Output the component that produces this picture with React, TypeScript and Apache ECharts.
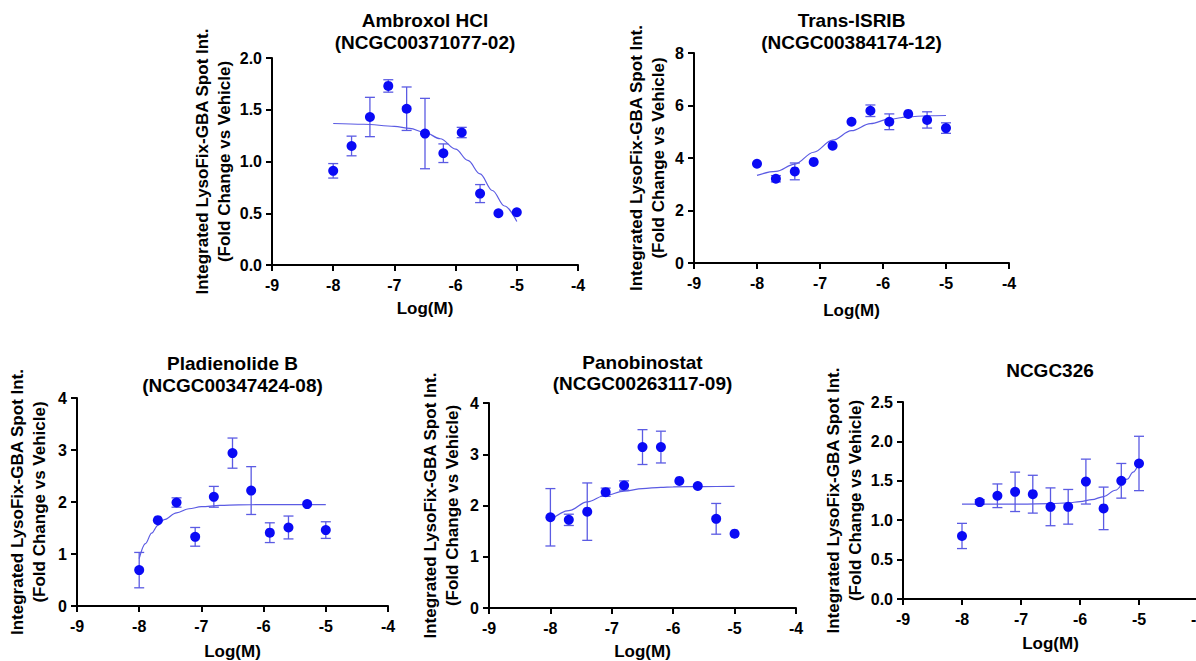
import React, { useEffect, useRef } from "react";
import * as echarts from "echarts";

// ---- Data ----
const DOSES = [-8, -7.7, -7.4, -7.1, -6.8, -6.5, -6.2, -5.9, -5.6, -5.3, -5.0];

const TITLES_1 = ["Ambroxol HCl", "(NCGC00371077-02)"];
const MEANS_1 = [0.91, 1.15, 1.43, 1.73, 1.51, 1.27, 1.08, 1.28, 0.69, 0.5, 0.51];
const ERRS_1 = [0.07, 0.095, 0.19, 0.06, 0.21, 0.34, 0.09, 0.05, 0.087, 0, 0];
const FIT_X_1 = [-8, -7.5, -7, -6.75, -6.5, -6.25, -6, -5.8, -5.6, -5.4, -5.2, -5];
const FIT_Y_1 = [1.367, 1.36, 1.34, 1.32, 1.28, 1.22, 1.12, 1.01, 0.88, 0.72, 0.57, 0.42];
const YTICKS_1 = [0, 2, 0.5];

const TITLES_2 = ["Trans-ISRIB", "(NCGC00384174-12)"];
const MEANS_2 = [3.78, 3.21, 3.49, 3.85, 4.47, 5.38, 5.8, 5.38, 5.68, 5.45, 5.14];
const ERRS_2 = [0, 0.12, 0.32, 0, 0, 0, 0.22, 0.3, 0, 0.31, 0.2];
const FIT_X_2 = [-8, -7.7, -7.4, -7.1, -6.8, -6.5, -6.2, -5.9, -5.6, -5.3, -5];
const FIT_Y_2 = [3.34, 3.49, 3.77, 4.22, 4.68, 5.04, 5.31, 5.48, 5.57, 5.61, 5.62];
const YTICKS_2 = [0, 8, 2];

const TITLES_3 = ["Pladienolide B", "(NCGC00347424-08)"];
const MEANS_3 = [0.69, 1.65, 1.99, 1.33, 2.1, 2.94, 2.22, 1.41, 1.51, 1.96, 1.46];
const ERRS_3 = [0.34, 0, 0.09, 0.18, 0.2, 0.29, 0.46, 0.19, 0.22, 0, 0.16];
const FIT_X_3 = [-8, -7.9, -7.8, -7.7, -7.6, -7.4, -7.2, -7, -6.7, -6.4, -6, -5.5, -5];
const FIT_Y_3 = [0.91, 1.2, 1.4, 1.55, 1.66, 1.79, 1.87, 1.91, 1.935, 1.945, 1.95, 1.95, 1.95];
const YTICKS_3 = [0, 4, 1];

const TITLES_4 = ["Panobinostat", "(NCGC00263117-09)"];
const MEANS_4 = [1.77, 1.72, 1.88, 2.26, 2.39, 3.14, 3.14, 2.48, 2.38, 1.74, 1.45];
const ERRS_4 = [0.56, 0.11, 0.56, 0.08, 0.09, 0.34, 0.31, 0, 0, 0.3, 0];
const FIT_X_4 = [-8, -7.7, -7.4, -7.1, -6.8, -6.5, -6.2, -6, -5.5, -5];
const FIT_Y_4 = [1.71, 1.9, 2.07, 2.2, 2.28, 2.33, 2.355, 2.365, 2.37, 2.375];
const YTICKS_4 = [0, 4, 1];

const TITLES_5 = ["NCGC326"];
const MEANS_5 = [0.8, 1.23, 1.31, 1.36, 1.33, 1.17, 1.17, 1.49, 1.15, 1.5, 1.72];
const ERRS_5 = [0.16, 0.03, 0.15, 0.25, 0.24, 0.24, 0.22, 0.285, 0.27, 0.22, 0.345];
const FIT_X_5 = [-8, -7.5, -7, -6.5, -6.2, -6, -5.8, -5.6, -5.4, -5.2, -5.1, -5];
const FIT_Y_5 = [1.205, 1.205, 1.205, 1.21, 1.22, 1.235, 1.26, 1.3, 1.38, 1.52, 1.61, 1.73];
const YTICKS_5 = [0, 2.5, 0.5];

const XTICKS = [-9, -4, 1];
const X_NAME = "Log(M)";
const Y_NAME = "Integrated LysoFix-GBA Spot Int.\n(Fold Change vs Vehicle)";

// ---- Layout (pixels) ----
const PANELS = [
  { titles: TITLES_1, means: MEANS_1, errs: ERRS_1, fx: FIT_X_1, fy: FIT_Y_1, yt: YTICKS_1, dec: 1,
    grid: { left: 272, top: 58, width: 306, height: 207 }, cx: 425, titleY: [20, 42.5], yGap: 32, xGap: 33 },
  { titles: TITLES_2, means: MEANS_2, errs: ERRS_2, fx: FIT_X_2, fy: FIT_Y_2, yt: YTICKS_2, dec: 0,
    grid: { left: 694, top: 53, width: 315, height: 210 }, cx: 851.5, titleY: [20.5, 42], yGap: 24, xGap: 37 },
  { titles: TITLES_3, means: MEANS_3, errs: ERRS_3, fx: FIT_X_3, fy: FIT_Y_3, yt: YTICKS_3, dec: 0,
    grid: { left: 77, top: 398, width: 311, height: 208 }, cx: 232.5, titleY: [363, 385], yGap: 26, xGap: 35 },
  { titles: TITLES_4, means: MEANS_4, errs: ERRS_4, fx: FIT_X_4, fy: FIT_Y_4, yt: YTICKS_4, dec: 0,
    grid: { left: 489, top: 403, width: 307, height: 205 }, cx: 642.5, titleY: [362, 383.5], yGap: 25, xGap: 33.5 },
  { titles: TITLES_5, means: MEANS_5, errs: ERRS_5, fx: FIT_X_5, fy: FIT_Y_5, yt: YTICKS_5, dec: 1,
    grid: { left: 903, top: 402, width: 295, height: 197 }, cx: 1050, titleY: [370], yGap: 30, xGap: 34 },
];

const FONT = "'Liberation Sans', Arial, Helvetica, sans-serif";
const MARKER = "#0a0af5";
const THIN = "#5b5be3";

function buildOption() {
  const grids: any[] = [];
  const xAxes: any[] = [];
  const yAxes: any[] = [];
  const series: any[] = [];
  const graphics: any[] = [];

  PANELS.forEach((p, i) => {
    grids.push({ ...p.grid, containLabel: false, outerBoundsMode: "none" });
    xAxes.push({
      type: "value", gridIndex: i, min: XTICKS[0], max: XTICKS[1], interval: XTICKS[2],
      name: X_NAME, nameLocation: "middle", nameGap: p.xGap,
      nameTextStyle: { color: "#000", fontFamily: FONT, fontWeight: "bold", fontSize: 17, lineHeight: 20 },
      axisLine: { onZero: false, lineStyle: { color: "#000", width: 2 } },
      axisTick: { length: 6, lineStyle: { color: "#000", width: 2 } },
      axisLabel: { color: "#000", fontFamily: FONT, fontWeight: "bold", fontSize: 16, margin: 12 },
      splitLine: { show: false },
    });
    yAxes.push({
      type: "value", gridIndex: i, min: p.yt[0], max: p.yt[1], interval: p.yt[2],
      name: Y_NAME, nameLocation: "middle", nameGap: p.yGap,
      nameTextStyle: { color: "#000", fontFamily: FONT, fontWeight: "bold", fontSize: 17, lineHeight: 22.5 },
      axisLine: { show: true, onZero: false, lineStyle: { color: "#000", width: 2 } },
      axisTick: { show: true, length: 6, lineStyle: { color: "#000", width: 2 } },
      axisLabel: {
        color: "#000", fontFamily: FONT, fontWeight: "bold", fontSize: 16, margin: 10,
        formatter: (v: number) => v.toFixed(p.dec),
      },
      splitLine: { show: false },
    });

    // fitted curve
    series.push({
      type: "line", xAxisIndex: i, yAxisIndex: i, smooth: 0.35, smoothMonotone: "x",
      showSymbol: false, symbol: "none", silent: true, z: 2,
      lineStyle: { color: THIN, width: 1.2 },
      data: p.fx.map((x, k) => [x, p.fy[k]]),
    });
    // error bars
    series.push({
      type: "custom", xAxisIndex: i, yAxisIndex: i, z: 3, silent: true,
      encode: { x: 0, y: [1, 2] },
      data: DOSES.map((x, k) => [x, p.means[k] - p.errs[k], p.means[k] + p.errs[k]]),
      renderItem: (params: any, api: any) => {
        const x = api.value(0);
        const lo = api.value(1);
        const hi = api.value(2);
        if (hi - lo < 1e-6) return { type: "group", children: [] };
        const a = api.coord([x, hi]);
        const b = api.coord([x, lo]);
        const w = 5;
        const style = { stroke: THIN, lineWidth: 1.3 };
        return {
          type: "group",
          children: [
            { type: "line", shape: { x1: a[0], y1: a[1], x2: b[0], y2: b[1] }, style },
            { type: "line", shape: { x1: a[0] - w, y1: a[1], x2: a[0] + w, y2: a[1] }, style },
            { type: "line", shape: { x1: b[0] - w, y1: b[1], x2: b[0] + w, y2: b[1] }, style },
          ],
        };
      },
    });
    // means
    series.push({
      type: "scatter", xAxisIndex: i, yAxisIndex: i, z: 4, symbol: "circle", symbolSize: 10,
      itemStyle: { color: MARKER, opacity: 1 },
      data: DOSES.map((x, k) => [x, p.means[k]]),
    });

    // titles
    p.titles.forEach((t, j) => {
      graphics.push({
        type: "text", x: p.cx, y: p.titleY[j], silent: true,
        style: {
          text: t, fill: "#000", font: `bold 19px ${FONT}`,
          textAlign: "center", textVerticalAlign: "middle",
        },
      });
    });
  });

  return {
    animation: false,
    backgroundColor: "#fff",
    grid: grids,
    xAxis: xAxes,
    yAxis: yAxes,
    series,
    graphic: graphics,
  };
}

export default function App() {
  const ref = useRef<HTMLDivElement>(null);
  useEffect(() => {
    if (!ref.current) return;
    const chart = echarts.init(ref.current, undefined, { renderer: "svg" });
    chart.setOption(buildOption() as any);
    return () => chart.dispose();
  }, []);
  return (
    <div
      ref={ref}
      style={{ position: "absolute", left: 0, top: 0, width: 1196, height: 661, background: "#fff" }}
    />
  );
}
